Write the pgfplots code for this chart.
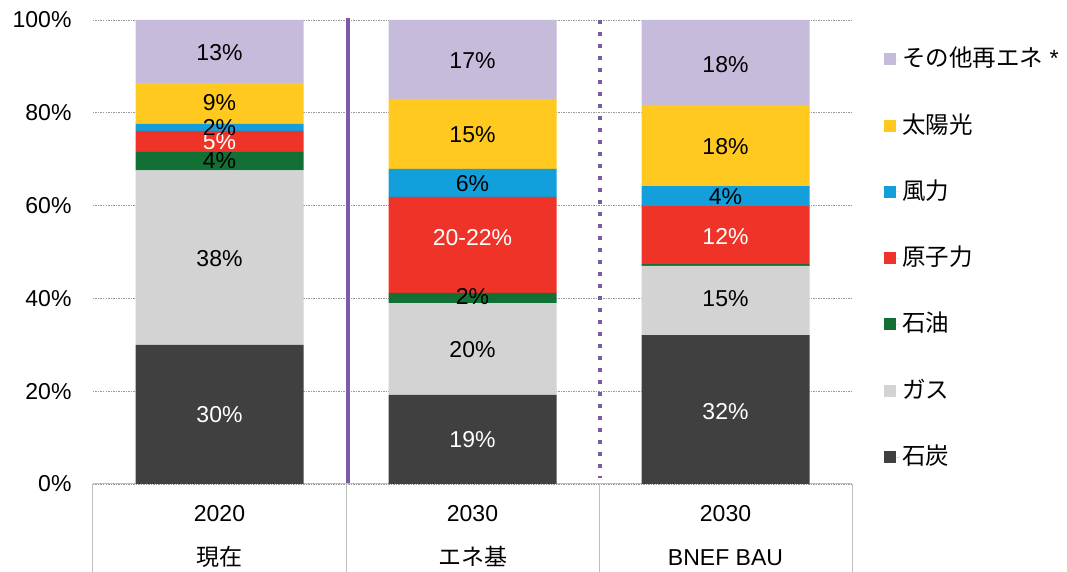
\documentclass[border=0pt]{standalone}
\usepackage{pgfplots}
\pgfplotsset{compat=1.18}
\usepackage{fontspec}
\setmainfont{Liberation Sans}
\newfontfamily\jp{Noto Sans CJK JP}
\definecolor{coal}{HTML}{404040}
\definecolor{gas}{HTML}{D3D3D3}
\definecolor{oil}{HTML}{137035}
\definecolor{nuc}{HTML}{F03328}
\definecolor{wind}{HTML}{139FDB}
\definecolor{solar}{HTML}{FFC91F}
\definecolor{other}{HTML}{C7BBDC}
\definecolor{purp}{HTML}{7B5AA6}
\definecolor{tbl}{HTML}{BFBFBF}
\begin{document}
\begin{tikzpicture}[font=\fontsize{23}{27}\selectfont]
\path[use as bounding box] (0,0) rectangle (1067pt,572pt);
\begin{axis}[
 at={(93pt,88pt)}, anchor=south west,
 scale only axis, width=759pt, height=464pt,
 xmin=-0.5, xmax=2.5, ymin=0, ymax=100,
 ybar stacked, bar width=168pt,
 xtick={0,1,2},
 xticklabels={{2020\\{\jp 現在}},{2030\\{\jp エネ基}},{2030\\BNEF BAU}},
 xticklabel style={align=center, font=\fontsize{23}{44}\selectfont, yshift=-17.5pt},
 ytick={0,20,...,100},
 yticklabel={\pgfmathprintnumber{\tick}\%},
 yticklabel style={xshift=-18pt, font=\fontsize{23}{27}\selectfont},
 /pgf/number format/assume math mode=true,
 axis line style={draw=none},
 major tick length=0pt,
 ymajorgrids, grid style={color=black!40, line width=0.7pt, dash pattern=on 1.5pt off 1pt},
 clip=false,
 reverse legend,
 legend style={at={(1,1)}, anchor=north west, xshift=29pt, yshift=-23.6pt, draw=none, fill=none,
   row sep=39.3pt, font=\fontsize{23.5}{27}\selectfont, nodes={text height=19pt, text depth=4pt}},
 legend cell align=left,
 legend image code/.code={\fill[#1,draw=none] (0pt,-6pt) rectangle (12pt,6pt); \path (0pt,0pt) -- (16pt,0pt);},
]
\addplot[fill=coal, draw=none] coordinates {(0,30.0) (1,19.2) (2,32.1)};
\addplot[fill=gas, draw=none] coordinates {(0,37.6) (1,19.8) (2,14.9)};
\addplot[fill=oil, draw=none] coordinates {(0,4.0) (1,2.2) (2,0.4)};
\addplot[fill=nuc, draw=none] coordinates {(0,4.5) (1,20.7) (2,12.5)};
\addplot[fill=wind, draw=none] coordinates {(0,1.5) (1,6.0) (2,4.3)};
\addplot[fill=solar, draw=none] coordinates {(0,8.8) (1,15.1) (2,17.5)};
\addplot[fill=other, draw=none] coordinates {(0,13.6) (1,17.0) (2,18.3)};
\legend{{\jp 石炭},{\jp ガス},{\jp 石油},{\jp 原子力},{\jp 風力},{\jp 太陽光},{\jp その他再エネ} *}
% axis line and table
\draw[tbl, line width=1pt] (axis cs:-0.5,0) -- (axis cs:2.5,0);
\draw[tbl, line width=1pt] (axis cs:-0.5,0) -- (axis cs:-0.5,-20);
\draw[tbl, line width=1pt] (axis cs:0.5,0) -- (axis cs:0.5,-20);
\draw[tbl, line width=1pt] (axis cs:1.5,0) -- (axis cs:1.5,-20);
\draw[tbl, line width=1pt] (axis cs:2.5,0) -- (axis cs:2.5,-20);
% purple separators
\draw[purp, line width=4pt] (axis cs:0.508,0) -- (axis cs:0.508,100.45);
\draw[purp, line width=4pt, dash pattern=on 4pt off 8pt] (axis cs:1.504,100) -- (axis cs:1.504,1.2);
% label anchors
\coordinate (a1) at (axis cs:0,14.9);
\coordinate (a2) at (axis cs:0,48.5);
\coordinate (a3) at (axis cs:0,69.6);
\coordinate (a4) at (axis cs:0,73.7);
\coordinate (a5) at (axis cs:0,76.9);
\coordinate (a6) at (axis cs:0,82.1);
\coordinate (a7) at (axis cs:0,92.9);
\coordinate (b1) at (axis cs:1,9.5);
\coordinate (b2) at (axis cs:1,28.9);
\coordinate (b3) at (axis cs:1,40.3);
\coordinate (b4) at (axis cs:1,53.2);
\coordinate (b5) at (axis cs:1,64.7);
\coordinate (b6) at (axis cs:1,75.4);
\coordinate (b7) at (axis cs:1,91.2);
\coordinate (c1) at (axis cs:2,15.5);
\coordinate (c2) at (axis cs:2,39.9);
\coordinate (c4) at (axis cs:2,53.4);
\coordinate (c5) at (axis cs:2,61.9);
\coordinate (c6) at (axis cs:2,72.8);
\coordinate (c7) at (axis cs:2,90.3);
\end{axis}
\node[white] at (a1) {30\%};
\node at (a2) {38\%};
\node at (a3) {4\%};
\node[white] at (a4) {5\%};
\node at (a5) {2\%};
\node at (a6) {9\%};
\node at (a7) {13\%};
\node[white] at (b1) {19\%};
\node at (b2) {20\%};
\node at (b3) {2\%};
\node[white] at (b4) {20-22\%};
\node at (b5) {6\%};
\node at (b6) {15\%};
\node at (b7) {17\%};
\node[white] at (c1) {32\%};
\node at (c2) {15\%};
\node[white] at (c4) {12\%};
\node at (c5) {4\%};
\node at (c6) {18\%};
\node at (c7) {18\%};
\end{tikzpicture}
\end{document}
